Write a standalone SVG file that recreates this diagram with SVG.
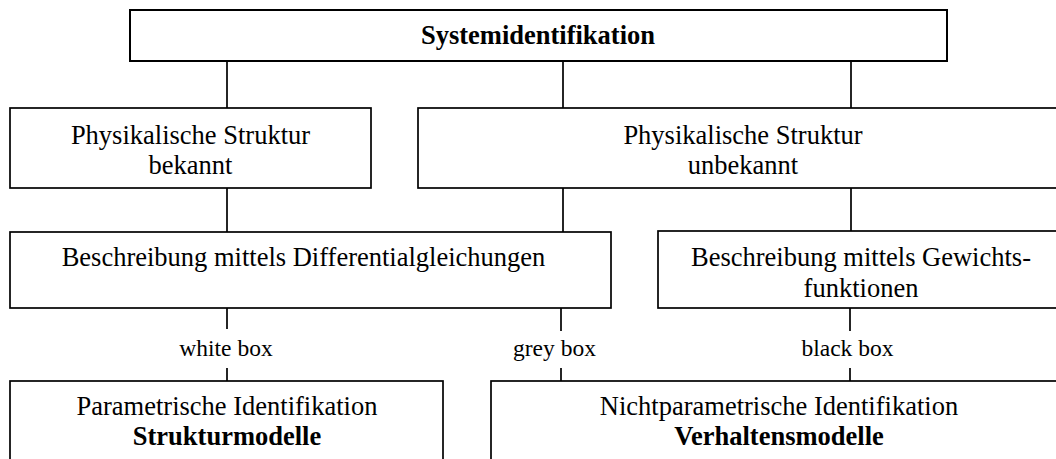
<svg xmlns="http://www.w3.org/2000/svg" width="1056" height="459" viewBox="0 0 1056 459">
<style>
.box{fill:#fff;stroke:#000;stroke-width:1.7}
.top{stroke-width:2}
.t{font-family:"Liberation Serif","Times New Roman",serif;font-size:26.5px;fill:#000;text-anchor:middle}
.b{font-weight:bold}
.lbl{font-family:"Liberation Serif","Times New Roman",serif;font-size:23.5px;fill:#000;text-anchor:middle}
.c{stroke:#000;stroke-width:1.7;fill:none}
</style>
<rect width="1056" height="459" fill="#fff"/>
<g id="connectors">
<path class="c" d="M227 61V108M563 61V108M851 61V108M227 188V232M563 188V232M851 188V231M227 308V329M227 368V381M561 308V331M561 368V381M850 308V331M850 368V381"/>
</g>
<g id="n-systemidentifikation">
<rect class="box top" x="130" y="10" width="817" height="51"/>
<text class="t b" x="538" y="44">Systemidentifikation</text>
</g>
<g id="n-bekannt">
<rect class="box" x="10" y="108" width="361" height="80"/>
<text class="t" x="190.5" y="143.5">Physikalische Struktur</text>
<text class="t" x="190.5" y="174">bekannt</text>
</g>
<g id="n-unbekannt">
<rect class="box" x="418" y="108" width="650" height="80"/>
<text class="t" x="743" y="143.5">Physikalische Struktur</text>
<text class="t" x="743" y="174">unbekannt</text>
</g>
<g id="n-differential">
<rect class="box" x="10" y="232" width="601" height="76"/>
<text class="t" x="303.5" y="265.5">Beschreibung mittels Differentialgleichungen</text>
</g>
<g id="n-gewicht">
<rect class="box" x="658" y="231" width="406" height="77"/>
<text class="t" x="861" y="266">Beschreibung mittels Gewichts-</text>
<text class="t" x="861" y="296.5">funktionen</text>
</g>
<g id="labels">
<text class="lbl" x="226" y="356">white box</text>
<text class="lbl" x="554.5" y="356">grey box</text>
<text class="lbl" x="847.5" y="356">black box</text>
</g>
<g id="n-parametrisch">
<rect class="box" x="10" y="381" width="433" height="100"/>
<text class="t" x="227" y="414.5">Parametrische Identifikation</text>
<text class="t b" x="227" y="445">Strukturmodelle</text>
</g>
<g id="n-nichtparametrisch">
<rect class="box" x="491" y="381" width="575" height="100"/>
<text class="t" x="779" y="414.5">Nichtparametrische Identifikation</text>
<text class="t b" x="779" y="445">Verhaltensmodelle</text>
</g>
</svg>
